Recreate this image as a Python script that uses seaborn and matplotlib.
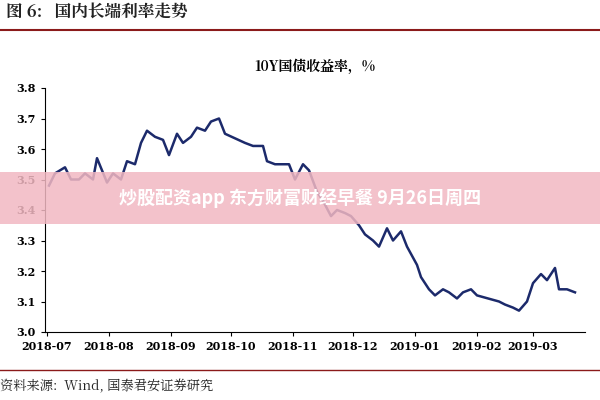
import pandas as pd
import seaborn as sns
import matplotlib.pyplot as plt
import matplotlib.dates as mdates
from matplotlib import font_manager
from matplotlib.patches import Rectangle

cjk = [f for f in font_manager.findSystemFonts() if 'cjk' in f.lower()]
for f in cjk:
    try:
        font_manager.fontManager.addfont(f)
    except Exception:
        pass
names = sorted({font_manager.FontProperties(fname=f).get_name() for f in cjk})
sans_name = next((n for n in names if 'Sans' in n and 'SC' in n), next((n for n in names if 'Sans' in n), None))
serif_name = next((n for n in names if 'Serif' in n and 'SC' in n), next((n for n in names if 'Serif' in n), sans_name))
sans_fam = [sans_name, 'DejaVu Sans'] if sans_name else ['DejaVu Sans']
serif_fam = [serif_name, 'DejaVu Serif'] if serif_name else ['DejaVu Serif']

dates = ['2018-07-02', '2018-07-05', '2018-07-10', '2018-07-13', '2018-07-17', '2018-07-20',
         '2018-07-24', '2018-07-26', '2018-07-31', '2018-08-03', '2018-08-07', '2018-08-10',
         '2018-08-14', '2018-08-17', '2018-08-20', '2018-08-24', '2018-08-28', '2018-08-31',
         '2018-09-04', '2018-09-07', '2018-09-11', '2018-09-14', '2018-09-18', '2018-09-21',
         '2018-09-25', '2018-09-28', '2018-10-08', '2018-10-12', '2018-10-17', '2018-10-19',
         '2018-10-23', '2018-10-26', '2018-10-30', '2018-11-02', '2018-11-06', '2018-11-09',
         '2018-11-13', '2018-11-16', '2018-11-20', '2018-11-23', '2018-11-27', '2018-11-30',
         '2018-12-04', '2018-12-07', '2018-12-11', '2018-12-14', '2018-12-18', '2018-12-21',
         '2018-12-25', '2018-12-28', '2019-01-02', '2019-01-04', '2019-01-08', '2019-01-11',
         '2019-01-15', '2019-01-18', '2019-01-22', '2019-01-25', '2019-01-29', '2019-02-01',
         '2019-02-12', '2019-02-15', '2019-02-19', '2019-02-22', '2019-02-26', '2019-03-01',
         '2019-03-05', '2019-03-08', '2019-03-12', '2019-03-14', '2019-03-18', '2019-03-22']
yields = [3.48, 3.52, 3.54, 3.50, 3.50, 3.52, 3.50, 3.57, 3.49, 3.52, 3.50, 3.56,
          3.55, 3.62, 3.66, 3.64, 3.63, 3.58, 3.65, 3.62, 3.64, 3.67, 3.66, 3.69,
          3.70, 3.65, 3.62, 3.61, 3.61, 3.56, 3.55, 3.55, 3.55, 3.50, 3.55, 3.53,
          3.46, 3.43, 3.38, 3.40, 3.39, 3.38, 3.35, 3.32, 3.30, 3.28, 3.34, 3.30,
          3.33, 3.28, 3.22, 3.18, 3.14, 3.12, 3.14, 3.13, 3.11, 3.13, 3.14, 3.12,
          3.10, 3.09, 3.08, 3.07, 3.10, 3.16, 3.19, 3.17, 3.21, 3.14, 3.14, 3.13]
df = pd.DataFrame({'date': pd.to_datetime(dates), 'y': yields})

fig = plt.figure(figsize=(6, 4), dpi=100)
ax = fig.add_axes([0.075, 0.17, 0.9, 0.61])
sns.lineplot(data=df, x='date', y='y', ax=ax, color='#1c2a6b', linewidth=1.8)
ax.set_ylim(3.0, 3.8)
ax.set_xlim(pd.Timestamp('2018-06-30'), pd.Timestamp('2019-03-27'))
ax.set_yticks([3.0, 3.1, 3.2, 3.3, 3.4, 3.5, 3.6, 3.7, 3.8])
ax.yaxis.set_major_formatter(plt.FormatStrFormatter('%.1f'))
ax.xaxis.set_major_locator(mdates.MonthLocator())
ax.xaxis.set_major_formatter(mdates.DateFormatter('%Y-%m'))
ax.set_xlabel('')
ax.set_ylabel('')
ax.tick_params(labelsize=8, length=3)
for lab in ax.get_xticklabels() + ax.get_yticklabels():
    lab.set_fontfamily('DejaVu Serif')
    lab.set_fontweight('bold')
for s in ['top', 'right']:
    ax.spines[s].set_visible(False)
ax.set_title('10Y国债收益率，%', fontsize=10, fontweight='bold', pad=12, family=serif_fam)

fig.text(0.01, 0.955, '图 6:   国内长端利率走势', fontsize=12, fontweight='bold',
         color='#222222', family=serif_fam)
fig.add_artist(plt.Line2D([0.0, 1.0], [0.925, 0.925], color='#8b1a1a', lw=1.5))
fig.add_artist(plt.Line2D([0.0, 1.0], [0.075, 0.075], color='#8b1a1a', lw=1.0))
fig.text(0.0, 0.025, '资料来源:  Wind, 国泰君安证券研究', fontsize=9.5, color='#222222',
         family=serif_fam)

fig.add_artist(Rectangle((0, 0.44), 1, 0.13, transform=fig.transFigure,
                         facecolor='#f2b8c2', alpha=0.85, edgecolor='none'))
fig.text(0.5, 0.505, '炒股配资app 东方财富财经早餐 9月26日周四', fontsize=13,
         fontweight='bold', color='white', ha='center', va='center', family=sans_fam)

fig.savefig('out.png', dpi=100)
